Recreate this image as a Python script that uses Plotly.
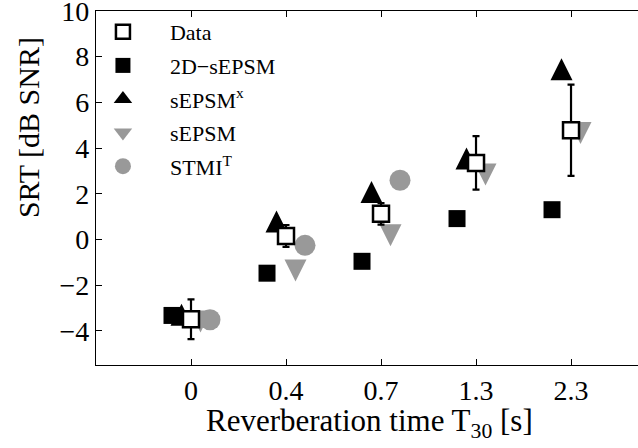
import plotly.graph_objects as go

# ---- data ----
categories = ["0", "0.4", "0.7", "1.3", "2.3"]
data_mean = [-3.5, 0.15, 1.12, 3.35, 4.78]
data_err = [0.87, 0.48, 0.47, 1.17, 2.0]
sepsm2d = [-3.33, -1.48, -0.96, 0.91, 1.30]
sepsmx = [-3.3, 0.78, 2.07, 3.54, 7.45]
sepsm = [-3.6, -1.36, 0.18, 2.84, 4.66]
stmit = [-3.52, -0.26, 2.59, None, None]

# ---- style ----
FONT = "Liberation Serif"
GREY = "#999999"
offsets = {"2d": -0.2, "x": -0.1, "data": 0.0, "s": 0.1, "t": 0.2}
idx = list(range(len(categories)))


def xs(key):
    return [i + offsets[key] for i in idx]


fig = go.Figure()

# data-bearing traces (legend entries are drawn by the legend-only traces below)
fig.add_trace(go.Scatter(
    x=xs("2d"), y=sepsm2d, mode="markers", name="2D\u2212sEPSM",
    showlegend=False,
    marker=dict(symbol="square", size=17, color="black", line=dict(width=0)),
))
fig.add_trace(go.Scatter(
    x=xs("x"), y=sepsmx, mode="markers", name="sEPSM<sup>x</sup>",
    showlegend=False,
    marker=dict(symbol="arrow-down", angle=180, standoff=11, size=22,
                color="black", line=dict(width=0)),
))
fig.add_trace(go.Scatter(
    x=xs("s"), y=sepsm, mode="markers", name="sEPSM",
    showlegend=False,
    marker=dict(symbol="arrow-down", standoff=11, size=22,
                color=GREY, line=dict(width=0)),
))
fig.add_trace(go.Scatter(
    x=xs("t"), y=stmit, mode="markers", name="STMI<sup>T</sup>",
    showlegend=False,
    marker=dict(symbol="circle", size=21, color=GREY, line=dict(width=0)),
))
fig.add_trace(go.Scatter(
    x=xs("data"), y=data_mean, mode="markers", name="Data",
    showlegend=False,
    error_y=dict(type="data", array=data_err, visible=True,
                 color="black", thickness=2.2, width=3.5),
    marker=dict(symbol="square", size=16, color="white",
                line=dict(width=2.5, color="black")),
))

# legend entries
legend_items = [
    ("Data", dict(symbol="square", size=14, color="white",
                  line=dict(width=2.5, color="black"))),
    ("2D\u2212sEPSM", dict(symbol="square", size=15, color="black",
                           line=dict(width=0))),
    ("sEPSM<sup>x</sup>", dict(symbol="triangle-up", size=16, color="black",
                               line=dict(width=0))),
    ("sEPSM", dict(symbol="triangle-down", size=16, color=GREY,
                   line=dict(width=0))),
    ("STMI<sup>T</sup>", dict(symbol="circle", size=16, color=GREY,
                              line=dict(width=0))),
]
for k, (nm, mk) in enumerate(legend_items):
    fig.add_trace(go.Scatter(
        x=[None], y=[None], mode="markers", name=nm, marker=mk,
        legendgroup=f"g{k}", showlegend=True,
    ))

axis_common = dict(
    showgrid=False, zeroline=False, showline=True, linecolor="black",
    linewidth=1.3, ticks="inside", ticklen=6, tickwidth=1, tickcolor="black",
    tickfont=dict(family=FONT, size=28, color="black"), automargin=False,
    ticklabeloverflow="allow",
)

fig.update_layout(
    width=638, height=448,
    margin=dict(l=96, r=0, t=11, b=83),
    paper_bgcolor="white", plot_bgcolor="white",
    font=dict(family=FONT, color="black"),
    xaxis=dict(
        range=[-1, 4.705], tickvals=idx, ticktext=categories,
        mirror="ticks", **axis_common,
    ),
    yaxis=dict(
        range=[-5.5, 10], tickvals=[-4, -2, 0, 2, 4, 6, 8, 10],
        mirror=False, **axis_common,
    ),
    showlegend=True,
    legend=dict(
        x=-0.037, y=1.0, xanchor="left", yanchor="top",
        bgcolor="rgba(0,0,0,0)", borderwidth=0,
        font=dict(family=FONT, size=22, color="black"),
        itemwidth=84, tracegroupgap=2, traceorder="grouped",
    ),
    annotations=[
        dict(
            text="SRT [dB SNR]", textangle=-90, showarrow=False,
            xref="paper", yref="paper", x=-0.1255, y=0.672,
            xanchor="center", yanchor="middle",
            font=dict(family=FONT, size=30, color="black"),
        ),
        dict(
            text="Reverberation time T<sub>30</sub> [s]", showarrow=False,
            xref="paper", yref="paper", x=0.5055, y=-0.103,
            xanchor="center", yanchor="top",
            font=dict(family=FONT, size=31, color="black"),
        ),
    ],
)

fig.write_html(
    "out.html",
    config={"displayModeBar": False},
    post_script="document.body.style.margin='0';document.body.style.overflow='hidden';",
)
